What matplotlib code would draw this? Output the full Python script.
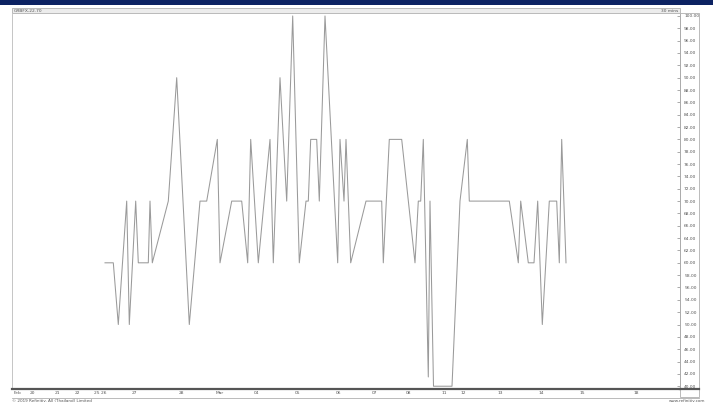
import matplotlib
matplotlib.use("Agg")
import matplotlib.pyplot as plt
from matplotlib.patches import Rectangle

# ---- data (x in chart slot units) ----
slot = [93, 101.3, 106.3, 114.7, 117.3, 123.7, 126.3, 136.3, 138, 140.3,
        156.3, 164.7, 177.3, 188, 194.7, 205.3, 208, 219.7, 229.7, 235.7,
        238.7, 246.3, 258, 261.3, 268, 274.7, 280.7, 287.3, 294, 296.3,
        298.7, 304.7, 307.3, 313, 325.7, 328, 332, 334, 338.7, 354,
        369.7, 371.3, 377.3, 389.7, 403, 406.3, 408.7, 411.3, 416.3, 418,
        421.5, 440, 448, 455.3, 457.3, 497.3, 506.3, 508.7, 516.3, 522,
        525.7, 530.3, 537.3, 544.7, 547.3, 549.7, 554]
price = [60, 60, 50, 70, 50, 70, 60, 60, 70, 60,
         70, 90, 50, 70, 70, 80, 60, 70, 70, 60,
         80, 60, 80, 60, 90, 70, 100, 60, 70, 70,
         80, 80, 70, 100, 60, 80, 70, 80, 60, 70,
         70, 60, 80, 80, 60, 70, 70, 80, 41.5, 70,
         40, 40, 70, 80, 70, 70, 60, 70, 60, 60,
         70, 50, 70, 70, 60, 80, 60]

tick_pos = [5, 20, 45, 65, 88, 122, 169, 208, 244, 286, 326, 363, 397, 432, 451, 488, 529, 570, 624]
tick_lab = ["Feb", "20", "21", "22", "25 26", "27", "28", "Mar", "04", "05", "06",
            "07", "08", "11", "12", "13", "14", "15", "18"]
y_ticks = list(range(40, 101, 2))

W, H = 713, 403
fig = plt.figure(figsize=(W / 100, H / 100), dpi=100)
fig.patch.set_facecolor("white")

def fx(px):
    return px / W

def fy(py):
    return 1 - py / H

# top navy bar
fig.patches.append(Rectangle((0, fy(5)), 1, 5 / H, transform=fig.transFigure,
                             facecolor="#0c2262", edgecolor="none"))
# header strip
fig.patches.append(Rectangle((fx(12), fy(13)), fx(668), 5 / H, transform=fig.transFigure,
                             facecolor="#ececec", edgecolor="#b0b0b0", linewidth=0.6))
fig.text(fx(14), fy(10.5), "GRBFX-22.70", fontsize=3.2, va="center", ha="left", color="#555")
fig.text(fx(678), fy(10.5), "30 mins", fontsize=3.2, va="center", ha="right", color="#555")

# right label panel (outline only)
fig.patches.append(Rectangle((fx(680), fy(397)), fx(19), 384 / H, transform=fig.transFigure,
                             facecolor="none", edgecolor="#b0b0b0", linewidth=0.6))

ax = fig.add_axes([fx(12), fy(389), fx(668), 375 / H])
ax.plot(slot, price, color="#9a9a9a", linewidth=0.75)
ax.set_xlim(0, 668)
ax.set_ylim(39.55, 100.32)

ax.yaxis.tick_right()
ax.set_yticks(y_ticks)
ax.set_yticklabels([f"{v:.2f}" for v in y_ticks], fontsize=3.2, color="#555")
ax.tick_params(axis="y", direction="in", length=2, width=0.5, color="#888", pad=3)
ax.set_xticks([])
ax.spines["top"].set_visible(False)
ax.spines["left"].set_color("#bbbbbb")
ax.spines["left"].set_linewidth(0.6)
ax.spines["right"].set_color("#888888")
ax.spines["right"].set_linewidth(0.6)
ax.spines["bottom"].set_color("#555555")
ax.spines["bottom"].set_linewidth(1.6)

# x-axis label band
for p, lab in zip(tick_pos, tick_lab):
    x_fig = fig.transFigure.inverted().transform(ax.transData.transform((p, 39.55)))[0]
    fig.text(x_fig, fy(393.5), lab, fontsize=3.2, ha="center", va="center", color="#555")
fig.lines.append(plt.Line2D([fx(12), fx(699)], [fy(397.5), fy(397.5)], transform=fig.transFigure,
                            color="#b0b0b0", linewidth=0.6))
fig.lines.append(plt.Line2D([fx(680), fx(699)], [fy(389), fy(389)], transform=fig.transFigure,
                            color="#555555", linewidth=1.6))

fig.text(fx(12), fy(400.5), "\u00a9 2019 Refinitiv. All (Thailand) Limited", fontsize=3,
         ha="left", va="center", color="#555")
fig.text(fx(705), fy(400.5), "www.refinitiv.com", fontsize=3,
         ha="right", va="center", color="#555")

fig.savefig("out.png", dpi=100)
